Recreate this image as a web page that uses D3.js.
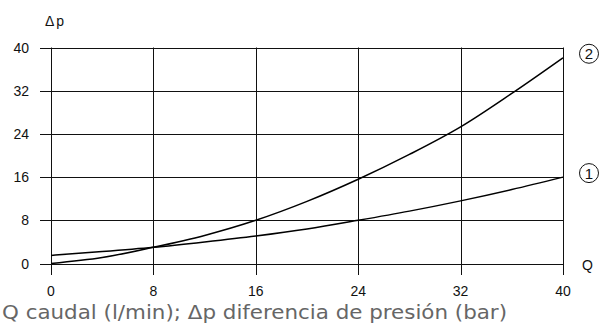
<!DOCTYPE html>
<html>
<head>
<meta charset="utf-8">
<script src="https://cdn.jsdelivr.net/npm/d3@7"></script>
<style>
  body { margin: 0; background: #fff; }
  svg { display: block; }
</style>
</head>
<body>
<div class="chart"></div>
<script>
var svgWidth = 601;
var svgHeight = 329;

// flow Q (l/min) and pressure drop readings for the two curves
var flowQ = [0, 4, 8, 12, 16, 20, 24, 28, 32, 36, 40];
var curve1 = [1.5, 2.2, 3.0, 4.0, 5.1, 6.4, 8.0, 9.7, 11.6, 13.7, 16.0];
var curve2 = [0, 1.1, 3.0, 5.2, 8.0, 11.5, 15.6, 20.2, 25.3, 31.5, 38.1];
var xTicks = [0, 8, 16, 24, 32, 40];
var yTicks = [0, 8, 16, 24, 32, 40];

var x = d3.scaleLinear().domain([0, 40]).range([51, 563]);
var y = d3.scaleLinear().domain([0, 40]).range([263.5, 47.5]);

var svg = d3.select(".chart")
  .append("svg")
  .attr("width", svgWidth)
  .attr("height", svgHeight);

// horizontal grid lines (extend a bit left of Q=0)
svg.append("g")
  .selectAll("line")
  .data(yTicks)
  .enter()
  .append("line")
  .attr("x1", 40)
  .attr("x2", x(40))
  .attr("y1", d => Math.round(y(d)) + 0.5)
  .attr("y2", d => Math.round(y(d)) + 0.5)
  .attr("stroke", "#111")
  .attr("stroke-width", 1);

// vertical grid lines (extend below 0)
svg.append("g")
  .selectAll("line")
  .data(xTicks)
  .enter()
  .append("line")
  .attr("x1", d => Math.round(x(d)) + 0.5)
  .attr("x2", d => Math.round(x(d)) + 0.5)
  .attr("y1", y(40))
  .attr("y2", 275)
  .attr("stroke", "#111")
  .attr("stroke-width", 1);

// y tick labels
svg.append("g")
  .selectAll("text")
  .data(yTicks)
  .enter()
  .append("text")
  .attr("x", 29)
  .attr("y", d => y(d) + 5)
  .attr("text-anchor", "end")
  .attr("font-family", "Liberation Sans, Arial, sans-serif")
  .attr("font-size", 14)
  .attr("fill", "#111")
  .text(d => d);

// x tick labels
svg.append("g")
  .selectAll("text")
  .data(xTicks)
  .enter()
  .append("text")
  .attr("x", d => x(d))
  .attr("y", 296)
  .attr("text-anchor", "middle")
  .attr("font-family", "Liberation Sans, Arial, sans-serif")
  .attr("font-size", 14)
  .attr("fill", "#111")
  .text(d => d);

// curves
var line = d3.line()
  .x((d, i) => x(flowQ[i]))
  .y(d => y(d))
  .curve(d3.curveMonotoneX);

[curve1, curve2].forEach(function(vals) {
  svg.append("path")
    .datum(vals)
    .attr("d", line)
    .attr("fill", "none")
    .attr("stroke", "#000")
    .attr("stroke-width", 1.5);
});

// axis names
svg.append("text")
  .attr("x", 45)
  .attr("y", 26)
  .attr("font-family", "Liberation Sans, Arial, sans-serif")
  .attr("font-size", 14)
  .attr("letter-spacing", 2)
  .attr("fill", "#111")
  .text("Δp");

svg.append("text")
  .attr("x", 582)
  .attr("y", 270)
  .attr("font-family", "Liberation Sans, Arial, sans-serif")
  .attr("font-size", 14)
  .attr("fill", "#111")
  .text("Q");

// circled curve numbers
var markers = [{ label: "2", v: 38.1 }, { label: "1", v: 16 }];
var mk = svg.append("g")
  .selectAll("g")
  .data(markers)
  .enter()
  .append("g")
  .attr("transform", d => `translate(589, ${y(d.v) - 4})`);

mk.append("circle")
  .attr("r", 9.5)
  .attr("fill", "none")
  .attr("stroke", "#111")
  .attr("stroke-width", 1);

mk.append("text")
  .attr("y", 5.5)
  .attr("text-anchor", "middle")
  .attr("font-family", "Liberation Sans, Arial, sans-serif")
  .attr("font-size", 15)
  .attr("fill", "#111")
  .text(d => d.label);

// caption
svg.append("text")
  .attr("x", 2)
  .attr("y", 319)
  .attr("font-family", "DejaVu Sans Condensed, Liberation Sans Narrow, sans-serif")
  .attr("font-stretch", "condensed")
  .attr("font-size", 19)
  .attr("fill", "#666")
  .attr("textLength", 505)
  .attr("lengthAdjust", "spacingAndGlyphs")
  .text("Q caudal (l/min); Δp diferencia de presión (bar)");
</script>
</body>
</html>
